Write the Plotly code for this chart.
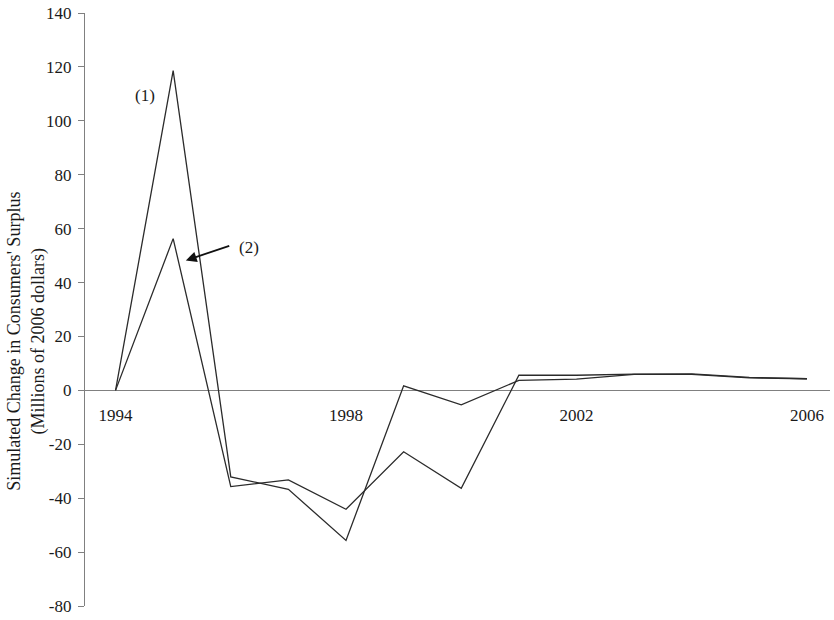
import plotly.graph_objects as go

years = list(range(1994, 2007))
series_1 = [0, 118.6, -32.1, -36.7, -55.7, 1.7, -5.4, 3.7, 4.2, 5.9, 5.9, 4.6, 4.3]
series_2 = [0, 56.3, -35.7, -33.2, -44.1, -22.8, -36.3, 5.6, 5.6, 6.0, 6.1, 4.8, 4.3]
x_ticks = [1994, 1998, 2002, 2006]
y_ticks = list(range(-80, 141, 20))
y_tick_text = [str(v).replace("\u2212", "-") for v in y_ticks]

font_family = "Liberation Serif, Times New Roman, serif"
line_color = "#2b2b2b"
axis_color = "#808080"

fig = go.Figure()
for vals in (series_1, series_2):
    fig.add_trace(go.Scatter(
        x=years, y=vals, mode="lines",
        line=dict(color=line_color, width=1.3),
        showlegend=False, hoverinfo="skip",
    ))

y_min, y_max = -80, 140

fig.update_layout(
    width=834, height=620,
    margin=dict(l=85, r=4, t=13, b=10),
    paper_bgcolor="white", plot_bgcolor="white",
    font=dict(family=font_family, size=17, color="#1a1a1a"),
    xaxis=dict(
        range=[1993.47, 2006.4],
        tickvals=x_ticks, ticktext=[str(v) for v in x_ticks],
        anchor="free", position=(0 - y_min) / (y_max - y_min),
        showline=False, showgrid=False, zeroline=False,
        ticks="outside", ticklen=9, tickcolor="rgba(0,0,0,0)",
    ),
    yaxis=dict(
        range=[y_min, y_max],
        tickvals=y_ticks, ticktext=y_tick_text,
        showline=True, linecolor=axis_color, linewidth=1.3,
        ticks="outside", ticklen=6, tickcolor=axis_color, tickwidth=1.3,
        ticklabelstandoff=3,
        showgrid=False,
        zeroline=True, zerolinecolor=axis_color, zerolinewidth=1.3,
    ),
)

# Two-line vertical axis title
fig.add_annotation(
    xref="paper", yref="y", x=0, y=18, xshift=-59, xanchor="center",
    yanchor="middle", textangle=-90, showarrow=False,
    text="Simulated Change in Consumers' Surplus<br>(Millions of 2006 dollars)",
    font=dict(size=18),
)

fig.add_annotation(x=1994.51, y=109.4, text="(1)", showarrow=False,
                   font=dict(size=17), xanchor="center", yanchor="middle")
fig.add_annotation(x=1995.22, y=48.2, ax=1996.0, ay=53.8,
                   axref="x", ayref="y", text="", showarrow=True,
                   arrowhead=2, arrowsize=1.2, arrowwidth=1.8, arrowcolor="#111")
fig.add_annotation(x=1996.1, y=53, text="(2)", showarrow=False,
                   font=dict(size=17), xanchor="left", yanchor="middle")

fig.write_html("out.html")
